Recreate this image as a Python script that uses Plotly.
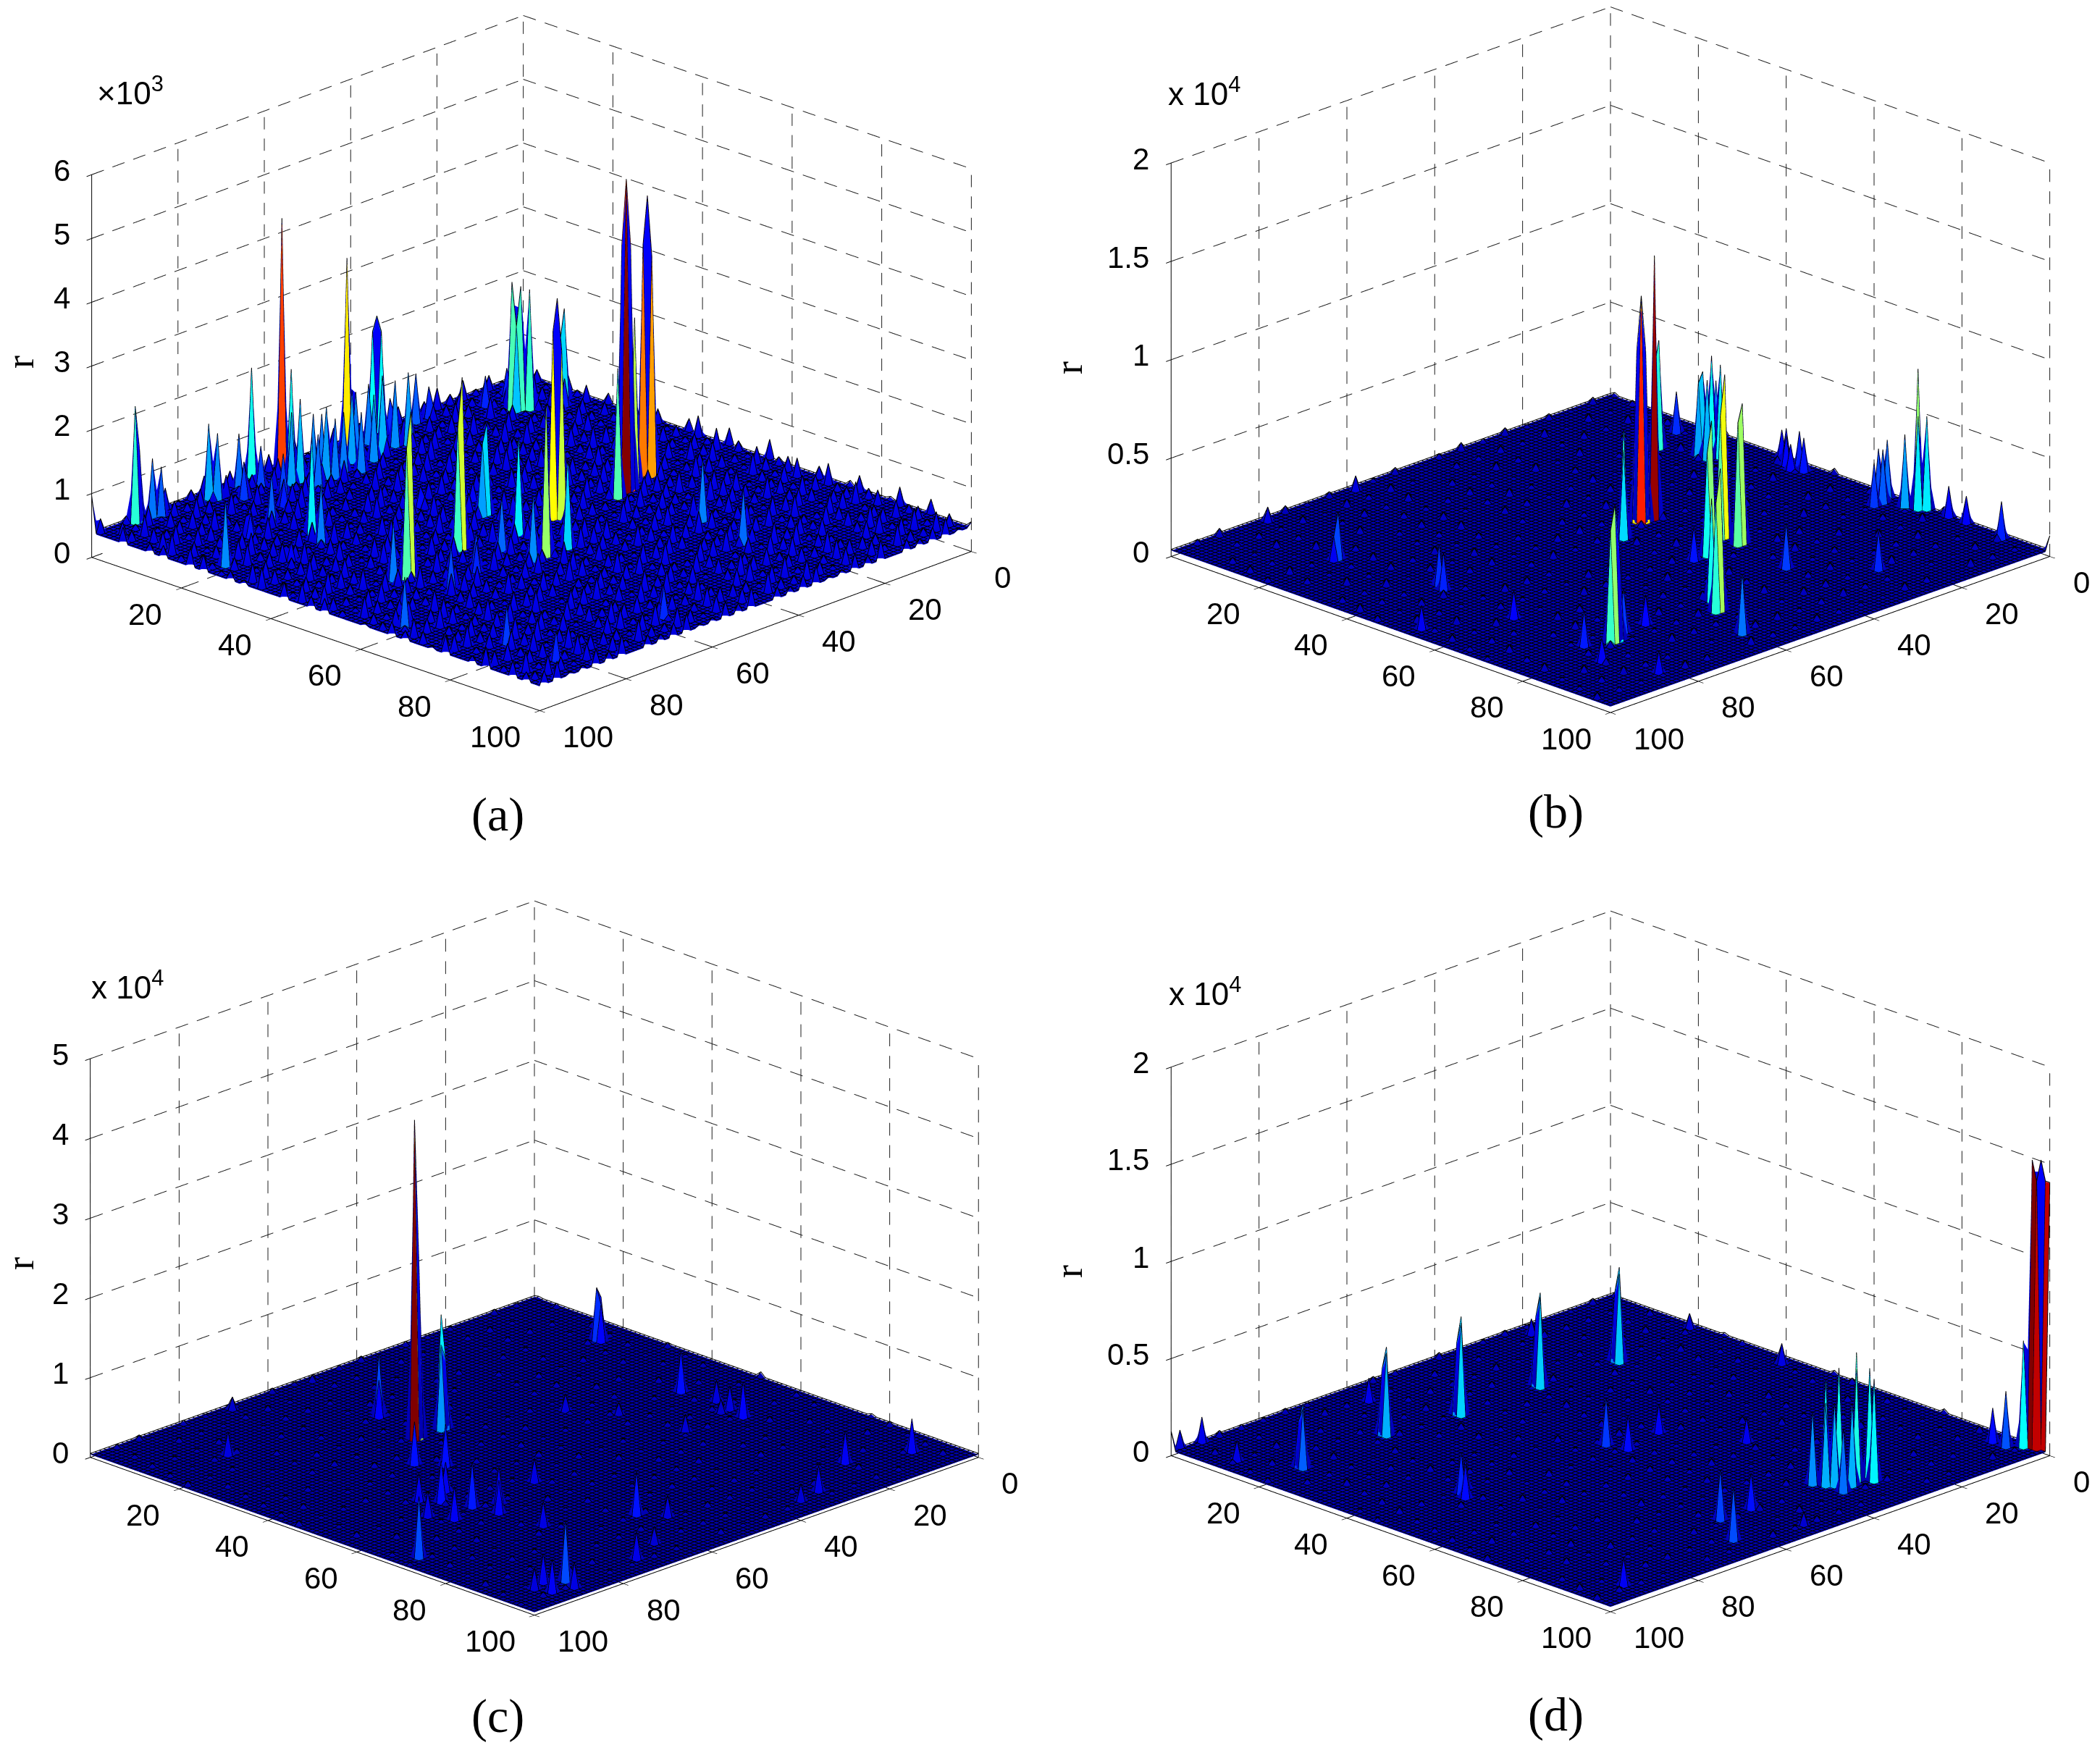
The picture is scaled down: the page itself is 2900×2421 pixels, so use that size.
import plotly.graph_objects as go

W, H = 2900, 2421

xs = list(range(0, 101))
ys = list(range(0, 101))
x_ticks = [0, 20, 40, 60, 80, 100]
y_ticks = [20, 40, 60, 80, 100]

z_ticks_a = [0, 1000, 2000, 3000, 4000, 5000, 6000]
z_labels_a = ["0", "1", "2", "3", "4", "5", "6"]
z_ticks_b = [0, 5000, 10000, 15000, 20000]
z_labels_b = ["0", "0.5", "1", "1.5", "2"]
z_ticks_c = [0, 10000, 20000, 30000, 40000, 50000]
z_labels_c = ["0", "1", "2", "3", "4", "5"]
z_ticks_d = [0, 5000, 10000, 15000, 20000]
z_labels_d = ["0", "0.5", "1", "1.5", "2"]

rough_a = [
    "3716284951730628419573062841957306",
    "5281937460285917364081529473618250",
    "1947305826194730582619473058261947",
    "6350829147536082914753608291475360",
    "2874160395287416039528741603952874",
    "7095318426709531842670953184267095",
    "4162857390416285739041628573904162",
    "0538271946053827194605382719460538",
    "8327610459832761045983276104598327",
    "3951048726395104872639510487263951",
    "6104793258610479325861047932586104",
    "1782536094178253609417825360941782",
    "5469021837546902183754690218375469",
    "9230781564923078156492307815649230",
    "2617495083261749508326174950832617",
    "7948162305794816230579481623057948",
    "4085327619408532761940853276194085",
    "1356904782135690478213569047821356",
    "8712045963871204596387120459638712",
    "3590681247359068124735906812473590",
    "6241879035624187903562418790356241",
    "0873256419087325641908732564190873",
    "5126940738512694073851269407385126",
    "9684013527968401352796840135279684",
    "2305768194230576819423057681942305",
    "7451092863745109286374510928637451",
    "4978235106497823510649782351064978",
    "1620583749162058374916205837491620",
    "8043617295804361729580436172958043",
    "3769402518376940251837694025183769",
    "6512870394651287039465128703946512",
    "0297145683029714568302971456830297",
    "5834926071583492607158349260715834",
    "2186350947218635094721863509472186",
]
rough_b = [
    "37162849517306284195",
    "52819374602859173640",
    "19473058261947305826",
    "63508291475360829147",
    "28741603952874160395",
    "70953184267095318426",
    "41628573904162857390",
    "05382719460538271946",
    "83276104598327610459",
    "39510487263951048726",
    "61047932586104793258",
    "17825360941782536094",
    "54690218375469021837",
    "92307815649230781564",
    "26174950832617495083",
    "79481623057948162305",
    "40853276194085327619",
    "13569047821356904782",
    "87120459638712045963",
    "35906812473590681247",
]
rough_c = [
    "24815370962481537096",
    "70396248157039624815",
    "15872093461587209346",
    "93046187259304618725",
    "48261705394826170539",
    "06593842170659384217",
    "81724960358172496035",
    "35089127463508912746",
    "62917430856291743085",
    "17350684291735068429",
    "94682571039468257103",
    "20476815392047681539",
    "76158342907615834290",
    "53920768145392076814",
    "08247196530824719653",
    "41705923684170592368",
    "89631057428963105742",
    "32864015793286401579",
    "65190873246519087324",
    "90573416829057341682",
]
rough_d = [
    "58203746915820374691",
    "13679405281367940528",
    "86041729358604172935",
    "29517360842951736084",
    "74385192067438519206",
    "30962814573096281457",
    "65810473926581047392",
    "07234958610723495861",
    "92746501839274650183",
    "41083627954108362795",
    "56392178045639217804",
    "83175940268317594026",
    "18649203578864920357",
    "70521386947052138694",
    "35907642183590764218",
    "62438019756243801975",
    "04716593820471659382",
    "97280435169728043516",
    "21564870392156487039",
    "49036125784903612578",
]

# tall spikes as (x, y, r)
peaks_a = [
    (92, 2, 2200), (91, 2, 1500), (88, 2, 1280), (87, 3, 1150), (76, 3, 1550), (75, 4, 1400),
    (69, 3, 1220), (64, 1, 2080), (58, 2, 4300), (60, 6, 2080), (60, 8, 1660), (76, 26, 1900),
    (56, 10, 1480), (55, 11, 1300), (45, 4, 3400), (36, 2, 2220), (37, 2, 2000), (36, 3, 2000),
    (40, 4, 1300), (44, 5, 1300), (79, 51, 2970), (80, 51, 2400), (28, 3, 1140), (25, 3, 860),
    (64, 48, 3060), (65, 48, 2300), (50, 40, 1800), (51, 40, 1500), (53, 50, 1900), (13, 10, 2370),
    (12, 11, 2300), (11, 12, 2250), (13, 11, 1700), (57, 60, 2770), (43, 49, 3800), (44, 49, 3300),
    (43, 50, 3000), (4, 13, 1800), (3, 12, 1500), (5, 13, 1300), (27, 49, 5270), (26, 48, 4700),
    (27, 48, 4200), (26, 49, 4200), (19, 46, 4740), (20, 46, 4000), (19, 47, 3800), (23, 47, 2950),
    (30, 50, 2400), (29, 49, 2100), (28, 67, 1330), (31, 79, 1220), (64, 93, 875), (52, 60, 1780),
    (60, 60, 1400), (77, 18, 1150), (96, 26, 1400), (70, 57, 850), (78, 59, 1025), (82, 50, 1290),
    (96, 66, 1160), (90, 83, 970), (90, 94, 840), (87, 32, 670), (62, 8, 1500), (58, 9, 1400),
    (55, 8, 1300), (52, 10, 1300), (48, 8, 1500), (45, 10, 1400), (42, 9, 1600), (50, 12, 1300),
    (60, 12, 1200), (66, 10, 1000), (38, 8, 1400), (36, 9, 1500), (34, 3, 900), (68, 55, 900),
    (60, 53, 1200), (78, 30, 1300), (15, 6, 850), (9, 5, 800), (6, 15, 800), (72, 7, 950),
    (66, 5, 1000), (70, 14, 800), (84, 20, 750), (100, 0, 950), (55, 30, 700), (47, 34, 650),
]
peaks_b = [
    (38, 45, 11840), (37, 45, 9000), (38, 44, 9000), (35, 45, 13650), (34, 44, 9500), (12, 23, 5770),
    (13, 23, 4500), (5, 20, 2370), (44, 47, 5700), (45, 48, 4800), (79, 80, 7250), (80, 80, 6000),
    (78, 80, 5000), (8, 31, 5300), (9, 30, 4500), (7, 32, 4800), (8, 33, 5000), (10, 32, 4300),
    (6, 30, 3800), (10, 30, 4000), (33, 59, 8550), (34, 59, 6500), (33, 63, 7400), (34, 63, 6500),
    (40, 63, 7070), (41, 63, 5500), (57, 82, 7500), (58, 82, 5800), (55, 78, 5500), (62, 92, 3330),
    (61, 91, 3000), (1, 71, 7250), (2, 72, 5000), (1, 73, 5000), (3, 70, 4000), (2, 65, 3250),
    (3, 64, 2800), (4, 66, 3000), (6, 66, 2500), (1, 78, 1850), (1, 82, 1660), (2, 91, 2180),
    (2, 42, 2000), (2, 45, 2100), (3, 47, 2000), (3, 43, 1800), (4, 45, 1600), (1, 40, 1700),
    (36, 76, 2590), (26, 87, 2260), (84, 22, 2700), (85, 22, 1500), (81, 42, 2370), (82, 44, 2200),
    (80, 41, 1800), (84, 78, 2100), (87, 85, 1500), (84, 95, 1400), (83, 61, 1700), (97, 54, 1500),
    (80, 2, 1030), (60, 2, 1030), (0, 100, 1000), (70, 78, 1800), (44, 63, 2000), (75, 78, 2500),
]
peaks_c = [
    (59, 32, 40400), (58, 32, 22000), (52, 31, 14400), (53, 32, 11000), (52, 32, 9000), (7, 21, 6900),
    (6, 21, 5500), (7, 22, 5000), (55, 20, 7900), (56, 21, 5000), (14, 47, 5550), (15, 62, 4800),
    (14, 58, 3300), (13, 54, 3000), (7, 92, 4500), (18, 88, 4400), (58, 81, 5800), (87, 94, 8000),
    (90, 92, 4000), (92, 96, 4500), (88, 97, 3500), (93, 93, 3000), (96, 70, 8000), (76, 55, 5500),
    (74, 60, 6000), (80, 62, 4500), (72, 52, 4000), (78, 52, 3800), (82, 58, 3500), (70, 62, 5000),
    (73, 65, 4500), (67, 40, 5700), (64, 44, 5600), (33, 40, 2500), (28, 47, 1800), (26, 60, 2500),
    (16, 58, 2000), (70, 2, 1900), (52, 2, 1100), (30, 94, 3600), (35, 95, 2500), (59, 59, 3300),
    (55, 85, 3000), (85, 16, 3300), (72, 74, 3400), (72, 95, 3800), (65, 92, 2500),
]
peaks_d = [
    (1, 97, 15000), (0, 98, 15000), (0, 99, 14000), (0, 100, 14000), (1, 98, 14000), (2, 96, 5700),
    (4, 94, 3100), (4, 91, 2000), (20, 22, 4985), (21, 23, 4800), (21, 22, 3800), (37, 21, 4950),
    (38, 22, 4900), (38, 21, 3800), (55, 21, 5170), (56, 22, 5000), (56, 21, 3900), (70, 19, 4650),
    (71, 20, 4500), (71, 19, 3600), (90, 20, 3420), (91, 21, 3300), (91, 20, 2600), (31, 87, 6700),
    (33, 85, 5900), (35, 84, 5400), (29, 88, 5800), (30, 86, 6000), (32, 88, 6000), (36, 87, 4500),
    (38, 84, 4000), (34, 89, 4500), (37, 90, 3500), (30, 90, 5500), (37, 86, 4500), (49, 48, 2700),
    (48, 52, 2000), (39, 50, 1700), (81, 47, 2380), (82, 49, 2000), (79, 46, 1800), (60, 85, 2830),
    (65, 93, 3000), (53, 85, 2100), (32, 63, 1500), (3, 42, 1300), (2, 20, 1000), (94, 1, 1530),
    (98, 0, 1100), (100, 0, 1200), (62, 7, 1450), (22, 4, 1040), (92, 95, 1670), (52, 96, 900),
    (96, 11, 1300),
]

cmax_a, cmax_b, cmax_c, cmax_d = 5300, 14000, 40400, 15000

jet = [
    [0.0, "rgb(0,0,170)"], [0.125, "rgb(0,0,255)"], [0.375, "rgb(0,255,255)"],
    [0.625, "rgb(255,255,0)"], [0.875, "rgb(255,0,0)"], [1.0, "rgb(128,0,0)"],
]


def build_z(base, step, spacing, rough, peaks):
    z = [[base for _ in xs] for _ in ys]
    for i, row in enumerate(rough):
        for j, ch in enumerate(row):
            z[i * spacing + 1][min(j * spacing + i % spacing, 100)] = base + int(ch) * step
    for x, y, r in peaks:
        z[y][x] = r
    return z


def spike_faces(z, peaks, lift):
    # flat coloured cell in front of each spike, as the original shading has it
    vx, vy, vz, fi, fj, fk, colour = [], [], [], [], [], [], []
    for x, y, r in peaks:
        if x == xs[-1] or y == ys[-1]:
            continue
        p = len(vx)
        vx += [x, x + 1, x + 1, x]
        vy += [y, y, y + 1, y + 1]
        vz += [z[y][x] + lift, z[y][x + 1] + lift, z[y + 1][x + 1] + lift, z[y + 1][x] + lift]
        fi += [p, p]
        fj += [p + 1, p + 2]
        fk += [p + 2, p + 3]
        colour += [r, r]
    return vx, vy, vz, fi, fj, fk, colour


def mesh_lines(z, lift):
    # black wireframe along rows and columns, lifted a little off the surface
    mx, my, mz = [], [], []
    for j in range(len(ys)):
        mx += xs + [None]
        my += [ys[j]] * len(xs) + [None]
        mz += [v + lift for v in z[j]] + [None]
    for i in range(len(xs)):
        mx += [xs[i]] * len(ys) + [None]
        my += ys + [None]
        mz += [row[i] + lift for row in z] + [None]
    return mx, my, mz


def grid_lines(z_ticks):
    # box grid from the tick arrays, chopped into dashes
    top = z_ticks[-1]
    gx, gy, gz = [], [], []
    def dashes(a, b, on, off):
        t = 0.0
        while t < 1.0:
            t2 = min(t + on, 1.0)
            gx.extend([a[0] + (b[0] - a[0]) * t, a[0] + (b[0] - a[0]) * t2, None])
            gy.extend([a[1] + (b[1] - a[1]) * t, a[1] + (b[1] - a[1]) * t2, None])
            gz.extend([a[2] + (b[2] - a[2]) * t, a[2] + (b[2] - a[2]) * t2, None])
            t += on + off
    for x in x_ticks:
        dashes((x, 0, 0), (x, 0, top), 0.032, 0.024)
        dashes((x, 0, 0), (x, 100, 0), 0.028, 0.02)
    for y in y_ticks:
        dashes((0, y, 0), (0, y, top), 0.032, 0.024)
        dashes((0, y, 0), (100, y, 0), 0.028, 0.02)
    for r in z_ticks[1:]:
        dashes((100, 0, r), (0, 0, r), 0.028, 0.02)
        dashes((0, 0, r), (0, 100, r), 0.028, 0.02)
    return gx, gy, gz


def axis_lines(z_ticks):
    # solid axes plus the inner half of each tick
    top = z_ticks[-1]
    ax = [100, 100, None, 0, 100, None, 100, 100, None]
    ay = [0, 100, None, 100, 100, None, 0, 0, None]
    az = [0, 0, None, 0, 0, None, 0, top, None]
    for x in x_ticks:
        ax += [x, x, None]
        ay += [100, 97.5, None]
        az += [0, 0, None]
    for y in y_ticks:
        ax += [100, 97.5, None]
        ay += [y, y, None]
        az += [0, 0, None]
    for r in z_ticks:
        ax += [100, 97.5, None]
        ay += [0, 0, None]
        az += [r, r, None]
    return ax, ay, az


def tick_notes(z_ticks, z_labels):
    font = dict(family="Liberation Sans", size=42, color="black")
    out = []
    for x in x_ticks:
        out.append(dict(x=x, y=100, z=0, text=str(x), showarrow=False, font=font,
                        xanchor="left", yanchor="middle", xshift=30, yshift=-36))
    for y in y_ticks:
        out.append(dict(x=100, y=y, z=0, text=str(y), showarrow=False, font=font,
                        xanchor="right", yanchor="middle", xshift=-24, yshift=-36))
    for r, label in zip(z_ticks, z_labels):
        # just under the top of the range, or the label at the very top can drop out
        out.append(dict(x=100, y=0, z=r * 0.9999, text=label, showarrow=False, font=font,
                        xanchor="right", yanchor="middle", xshift=-28, yshift=6))
    return out


def make_scene(z_ticks, z_labels, dom, ratios, center_z, eye_xy):
    axis = dict(
        showgrid=False, zeroline=False, showbackground=False, showspikes=False,
        showline=True, linecolor="black", linewidth=2, ticks="outside", ticklen=10,
        tickcolor="black", tickwidth=2, showticklabels=False, title=dict(text=""),
    )
    return dict(
        domain=dict(x=[dom[0] / W, dom[1] / W], y=[1 - dom[3] / H, 1 - dom[2] / H]),
        xaxis=dict(axis, range=[0, 100], tickvals=x_ticks),
        yaxis=dict(axis, range=[0, 100], tickvals=y_ticks),
        zaxis=dict(axis, range=[z_ticks[0], z_ticks[-1]], tickvals=z_ticks),
        aspectmode="manual",
        aspectratio=dict(x=ratios[0], y=ratios[0], z=ratios[1]),
        annotations=tick_notes(z_ticks, z_labels),
        camera=dict(
            projection=dict(type="orthographic"),
            eye=dict(x=eye_xy[0], y=eye_xy[1], z=0.43 + center_z),
            center=dict(x=0, y=0, z=center_z),
            up=dict(x=0, y=0, z=1),
        ),
    )


panels = [
    ("scene", build_z(380, 35, 3, rough_a, peaks_a), peaks_a, z_ticks_a, z_labels_a, cmax_a, (41, 1411, 0, 1100), (1.562, 1.028), -0.110, (0.815, 0.785)),
    ("scene2", build_z(300, 40, 5, rough_b, peaks_b), peaks_b, z_ticks_b, z_labels_b, cmax_b, (1537, 2895, 0, 1100), (1.56, 1.057), -0.119, (0.8, 0.8)),
    ("scene3", build_z(350, 60, 5, rough_c, peaks_c), peaks_c, z_ticks_c, z_labels_c, cmax_c, (45, 1415, 1200, 2300), (1.577, 1.071), -0.040, (0.8, 0.8)),
    ("scene4", build_z(250, 30, 5, rough_d, peaks_d), peaks_d, z_ticks_d, z_labels_d, cmax_d, (1537, 2895, 1200, 2300), (1.56, 1.044), -0.031, (0.8, 0.8)),
]

fig = go.Figure()
layout_scenes = {}
for name, z, peaks, z_ticks, z_labels, cmax, dom, ratios, center_z, eye_xy in panels:
    top = z_ticks[-1]
    cap = cmax * 0.125
    gx, gy, gz = grid_lines(z_ticks)
    fig.add_trace(go.Scatter3d(
        x=gx, y=gy, z=gz, mode="lines", scene=name, showlegend=False, hoverinfo="skip",
        line=dict(color="rgb(30,30,30)", width=2),
    ))
    ax, ay, az = axis_lines(z_ticks)
    fig.add_trace(go.Scatter3d(
        x=ax, y=ay, z=az, mode="lines", scene=name, showlegend=False, hoverinfo="skip",
        line=dict(color="black", width=2),
    ))
    fig.add_trace(go.Surface(
        x=xs, y=ys, z=z, scene=name, showscale=False, hoverinfo="skip",
        surfacecolor=[[min(v, cap) for v in row] for row in z],
        colorscale=jet, cmin=0, cmax=cmax,
        lighting=dict(ambient=1, diffuse=0, specular=0, roughness=1, fresnel=0),
    ))
    vx, vy, vz, fi, fj, fk, colour = spike_faces(z, peaks, top * 0.0015)
    fig.add_trace(go.Mesh3d(
        x=vx, y=vy, z=vz, i=fi, j=fj, k=fk, scene=name, showscale=False, hoverinfo="skip",
        intensity=colour, intensitymode="cell", colorscale=jet, cmin=0, cmax=cmax,
        flatshading=True,
        lighting=dict(ambient=1, diffuse=0, specular=0, roughness=1, fresnel=0),
    ))
    mx, my, mz = mesh_lines(z, top * 0.003)
    fig.add_trace(go.Scatter3d(
        x=mx, y=my, z=mz, mode="lines", scene=name, showlegend=False, hoverinfo="skip",
        line=dict(color="black", width=2),
    ))
    layout_scenes[name] = make_scene(z_ticks, z_labels, dom, ratios, center_z, eye_xy)


def note(text, px, py, family, size, angle=0):
    return dict(
        text=text, x=px / W, y=1 - py / H, xref="paper", yref="paper", showarrow=False,
        xanchor="center", yanchor="middle",
        textangle=angle, font=dict(family=family, size=size, color="black"),
    )


sans = "Liberation Sans"
serif = "Liberation Serif"
notes = [
    note("×10<sup>3</sup>", 172, 117, sans, 44),
    note("x 10<sup>4</sup>", 1655, 118, sans, 44),
    note("x 10<sup>4</sup>", 168, 1353, sans, 44),
    note("x 10<sup>4</sup>", 1656, 1361, sans, 44),
    note("r", 20, 492, serif, 54, -90),
    note("r", 1468, 500, serif, 54, -90),
    note("r", 20, 1737, serif, 54, -90),
    note("r", 1468, 1748, serif, 54, -90),
    note("(a)", 679, 1117, serif, 66),
    note("(b)", 2140, 1113, serif, 66),
    note("(c)", 679, 2362, serif, 66),
    note("(d)", 2140, 2360, serif, 66),
]

fig.update_layout(
    width=W, height=H, margin=dict(l=0, r=0, t=0, b=0),
    paper_bgcolor="white", showlegend=False, annotations=notes, **layout_scenes,
)

fig.write_html("out.html")
